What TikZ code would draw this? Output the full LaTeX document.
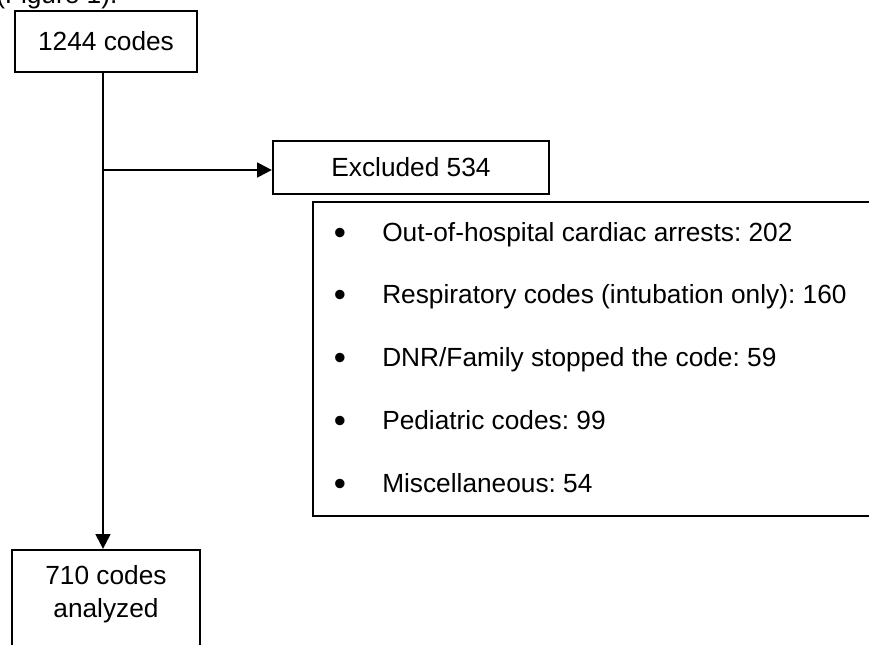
\documentclass[tikz,border=0pt]{standalone}
\usepackage{fontspec}
\setmainfont{Liberation Sans}
\usetikzlibrary{arrows.meta}
\frenchspacing
\begin{document}
\begin{tikzpicture}[x=0.75pt,y=-0.75pt,
  box/.style={draw,line width=1.7pt,inner sep=0pt,align=center,
    font=\fontsize{19.7}{24.75}\selectfont},
  txt/.style={inner sep=0pt,font=\fontsize{19.7}{24.75}\selectfont},
  bul/.style={inner sep=0pt,font=\fontsize{26}{26}\selectfont},
  arr/.style={line width=1.7pt,-{Triangle[length=11pt,width=11pt]}}]
\useasboundingbox (0,0) rectangle (869,644);
\clip (0,0) rectangle (869,644);
\node[txt,anchor=base west] (fig) at (-4,3) {(Figure 1).};
\node[box,minimum width=136.5pt,minimum height=45.75pt] (top) at (106,41.5) {1244 codes};
\node[box,minimum width=207pt,minimum height=39.75pt] (excl) at (411,167.5) {Excluded 534};
\node[box,minimum width=440.25pt,minimum height=235.5pt] (list) at (606.5,359) {};
\node[box,minimum width=141pt,minimum height=90pt] (bot) at (106,610) {};
\node[txt,align=center,anchor=base] (bottxt) at (106,617.5) {710 codes\\analyzed};
\foreach \i/\y/\t in {1/232/{Out-of-hospital cardiac arrests: 202},
                      2/294/{Respiratory codes (intubation only): 160},
                      3/357/{DNR/Family stopped the code: 59},
                      4/420/{Pediatric codes: 99},
                      5/483/{Miscellaneous: 54}}{
  \node[bul,anchor=base] (b\i) at (340,\y+12) {•};
  \node[txt,anchor=base west] (it\i) at (382,\y+9.5) {\t};
}
\coordinate (j) at (103,170);
\draw[arr] (j |- top.south) -- (j |- bot.north);
\draw[arr] (j) -- (excl.west |- j);
\end{tikzpicture}
\end{document}
